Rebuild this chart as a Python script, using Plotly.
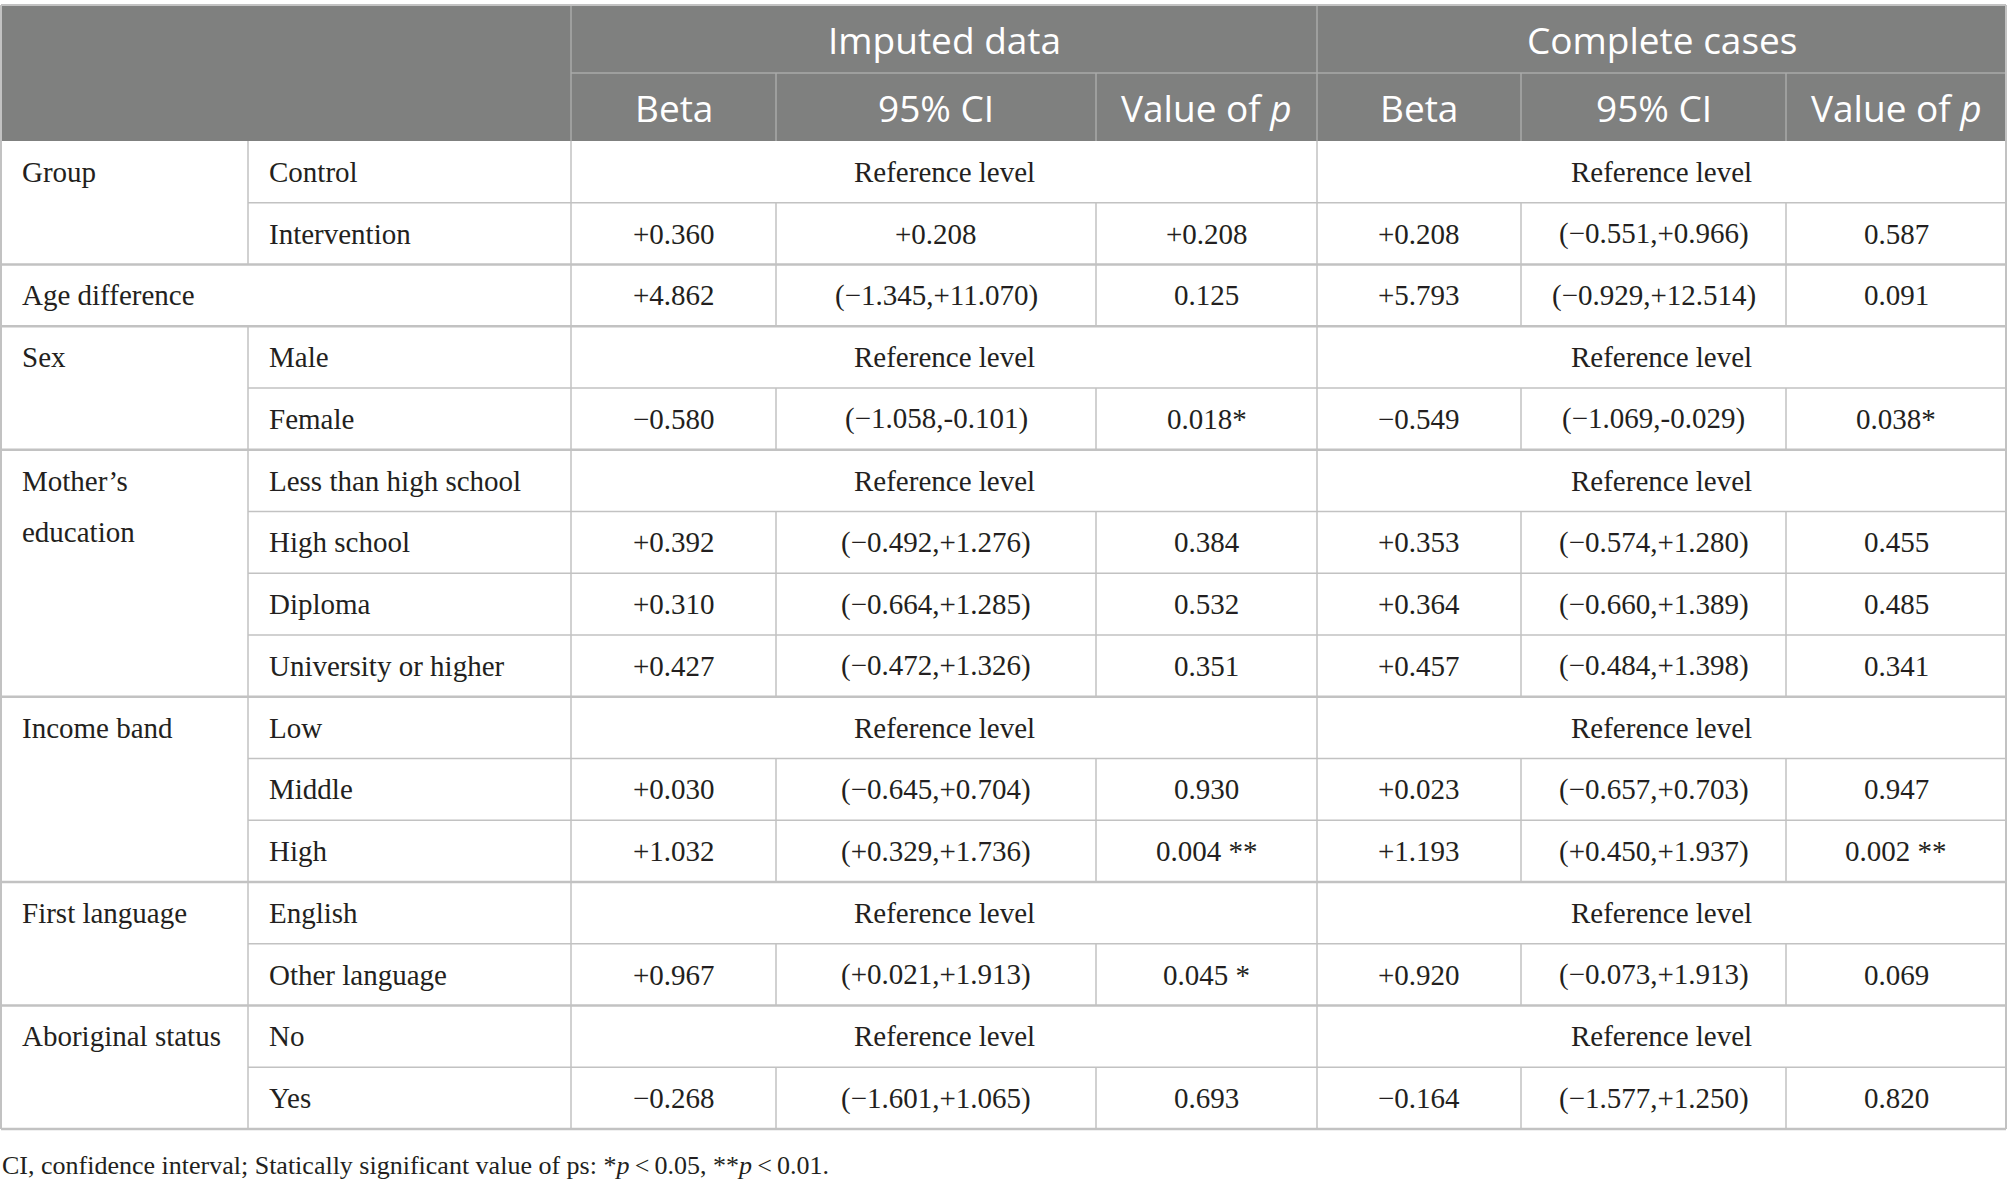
import plotly.graph_objects as go

# table content
groups = ["Group", "Age difference", "Sex", "Mother’s\neducation", "Income band",
          "First language", "Aboriginal status"]
group_levels = [["Control", "Intervention"], [None], ["Male", "Female"],
                ["Less than high school", "High school", "Diploma", "University or higher"],
                ["Low", "Middle", "High"], ["English", "Other language"], ["No", "Yes"]]

imp_beta = [None, "+0.360", "+4.862", None, "−0.580", None, "+0.392", "+0.310", "+0.427",
            None, "+0.030", "+1.032", None, "+0.967", None, "−0.268"]
imp_ci = [None, "+0.208", "(−1.345,+11.070)", None, "(−1.058,-0.101)", None, "(−0.492,+1.276)",
          "(−0.664,+1.285)", "(−0.472,+1.326)", None, "(−0.645,+0.704)", "(+0.329,+1.736)",
          None, "(+0.021,+1.913)", None, "(−1.601,+1.065)"]
imp_p = [None, "+0.208", "0.125", None, "0.018*", None, "0.384", "0.532", "0.351",
         None, "0.930", "0.004 **", None, "0.045 *", None, "0.693"]
cc_beta = [None, "+0.208", "+5.793", None, "−0.549", None, "+0.353", "+0.364", "+0.457",
           None, "+0.023", "+1.193", None, "+0.920", None, "−0.164"]
cc_ci = [None, "(−0.551,+0.966)", "(−0.929,+12.514)", None, "(−1.069,-0.029)", None,
         "(−0.574,+1.280)", "(−0.660,+1.389)", "(−0.484,+1.398)", None, "(−0.657,+0.703)",
         "(+0.450,+1.937)", None, "(−0.073,+1.913)", None, "(−1.577,+1.250)"]
cc_p = [None, "0.587", "0.091", None, "0.038*", None, "0.455", "0.485", "0.341",
        None, "0.947", "0.002 **", None, "0.069", None, "0.820"]

spanners = ["Imputed data", "Complete cases"]
sub_headers = ["Beta", "95% CI", "Value of <i>p</i>"]
ref_text = "Reference level"
footnote = ("CI, confidence interval; Statically significant value of ps: "
            "*<i>p</i>\u2009<\u20090.05, **<i>p</i>\u2009<\u20090.01.")

# geometry (pixel units on the axes)
W, H = 2007, 1184
col_x = [1, 248, 571, 776, 1096, 1317, 1521, 1786, 2006]
top, mid, head_bot = 5, 73, 141
row_h = 61.75
pad = 19
line_gap = 51

HEAD_FILL = "#7f807f"
HEAD_LINE = "#a9aaa9"
BODY_LINE = "#c2c2c2"
TXT = "#231f20"
SANS = "Open Sans"
SERIF = "Liberation Serif"

value_cols = [imp_beta, imp_ci, imp_p, cc_beta, cc_ci, cc_p]

shapes = []
ann = []


def line(x0, y0, x1, y1, color, w):
    shapes.append(dict(type="line", xref="x", yref="y", x0=x0, y0=y0, x1=x1, y1=y1,
                       line=dict(color=color, width=w)))


def text(x, y, s, font, size, color, anchor="center"):
    ann.append(dict(x=x, y=y, xref="x", yref="y", text=s, showarrow=False,
                    xanchor=anchor, yanchor="middle",
                    font=dict(family=font, size=size, color=color)))


# header block
shapes.append(dict(type="rect", xref="x", yref="y", x0=col_x[0], x1=col_x[-1], y0=top, y1=head_bot,
                   fillcolor=HEAD_FILL, line=dict(width=0), layer="below"))
line(col_x[2], mid, col_x[-1], mid, HEAD_LINE, 1.5)
for c in [2, 5]:
    line(col_x[c], top, col_x[c], head_bot, HEAD_LINE, 1.5)
for c in [3, 4, 6, 7]:
    line(col_x[c], mid, col_x[c], head_bot, HEAD_LINE, 1.5)
for i, s in enumerate(spanners):
    x0, x1 = col_x[2 + 3 * i], col_x[5 + 3 * i]
    text((x0 + x1) / 2, (top + mid) / 2, s, SANS, 37, "white")
    for j, h in enumerate(sub_headers):
        a, b = col_x[2 + 3 * i + j], col_x[3 + 3 * i + j]
        text((a + b) / 2, (mid + head_bot) / 2, h, SANS, 37, "white")

# body
r = 0
for g, levels in zip(groups, group_levels):
    g_top = head_bot + r * row_h
    g_bot = head_bot + (r + len(levels)) * row_h
    for k, part in enumerate(g.split("\n")):
        text(col_x[0] + pad, g_top + row_h / 2 + k * line_gap, part, SERIF, 29, TXT, "left")
    if levels[0] is not None:
        line(col_x[1], g_top, col_x[1], g_bot, BODY_LINE, 1.5)
    for lv in levels:
        y0 = head_bot + r * row_h
        y1 = y0 + row_h
        yc = (y0 + y1) / 2
        if lv is not None:
            text(col_x[1] + pad, yc, lv, SERIF, 29, TXT, "left")
        if r > 0 and y0 != g_top:
            line(col_x[1], y0, col_x[-1], y0, BODY_LINE, 1.5)
        for c in [2, 5]:
            line(col_x[c], y0, col_x[c], y1, BODY_LINE, 1.5)
        if imp_beta[r] is None:
            for i in range(2):
                x0, x1 = col_x[2 + 3 * i], col_x[5 + 3 * i]
                text((x0 + x1) / 2, yc, ref_text, SERIF, 29, TXT)
        else:
            for c in [3, 4, 6, 7]:
                line(col_x[c], y0, col_x[c], y1, BODY_LINE, 1.5)
            for j, vals in enumerate(value_cols):
                text((col_x[2 + j] + col_x[3 + j]) / 2, yc, vals[r], SERIF, 29, TXT)
        r += 1
    line(col_x[0], g_bot, col_x[-1], g_bot, BODY_LINE, 2.5)

tab_bot = head_bot + r * row_h
line(col_x[0], top, col_x[-1], top, BODY_LINE, 2)
line(col_x[0], top, col_x[0], tab_bot, BODY_LINE, 2)
line(col_x[-1], top, col_x[-1], tab_bot, BODY_LINE, 2)

text(col_x[0] - 1, tab_bot + 36, footnote, SERIF, 26, TXT, "left")

fig = go.Figure()
fig.update_layout(
    width=W, height=H, margin=dict(l=0, r=0, t=0, b=0),
    paper_bgcolor="white", plot_bgcolor="white",
    xaxis=dict(range=[0, W], visible=False, fixedrange=True),
    yaxis=dict(range=[H, 0], visible=False, fixedrange=True),
    shapes=shapes, annotations=ann, showlegend=False,
)
# page body margin would push the table off its place
fig.write_html("out.html", config={"displayModeBar": False},
               post_script="document.body.style.margin='0';")
